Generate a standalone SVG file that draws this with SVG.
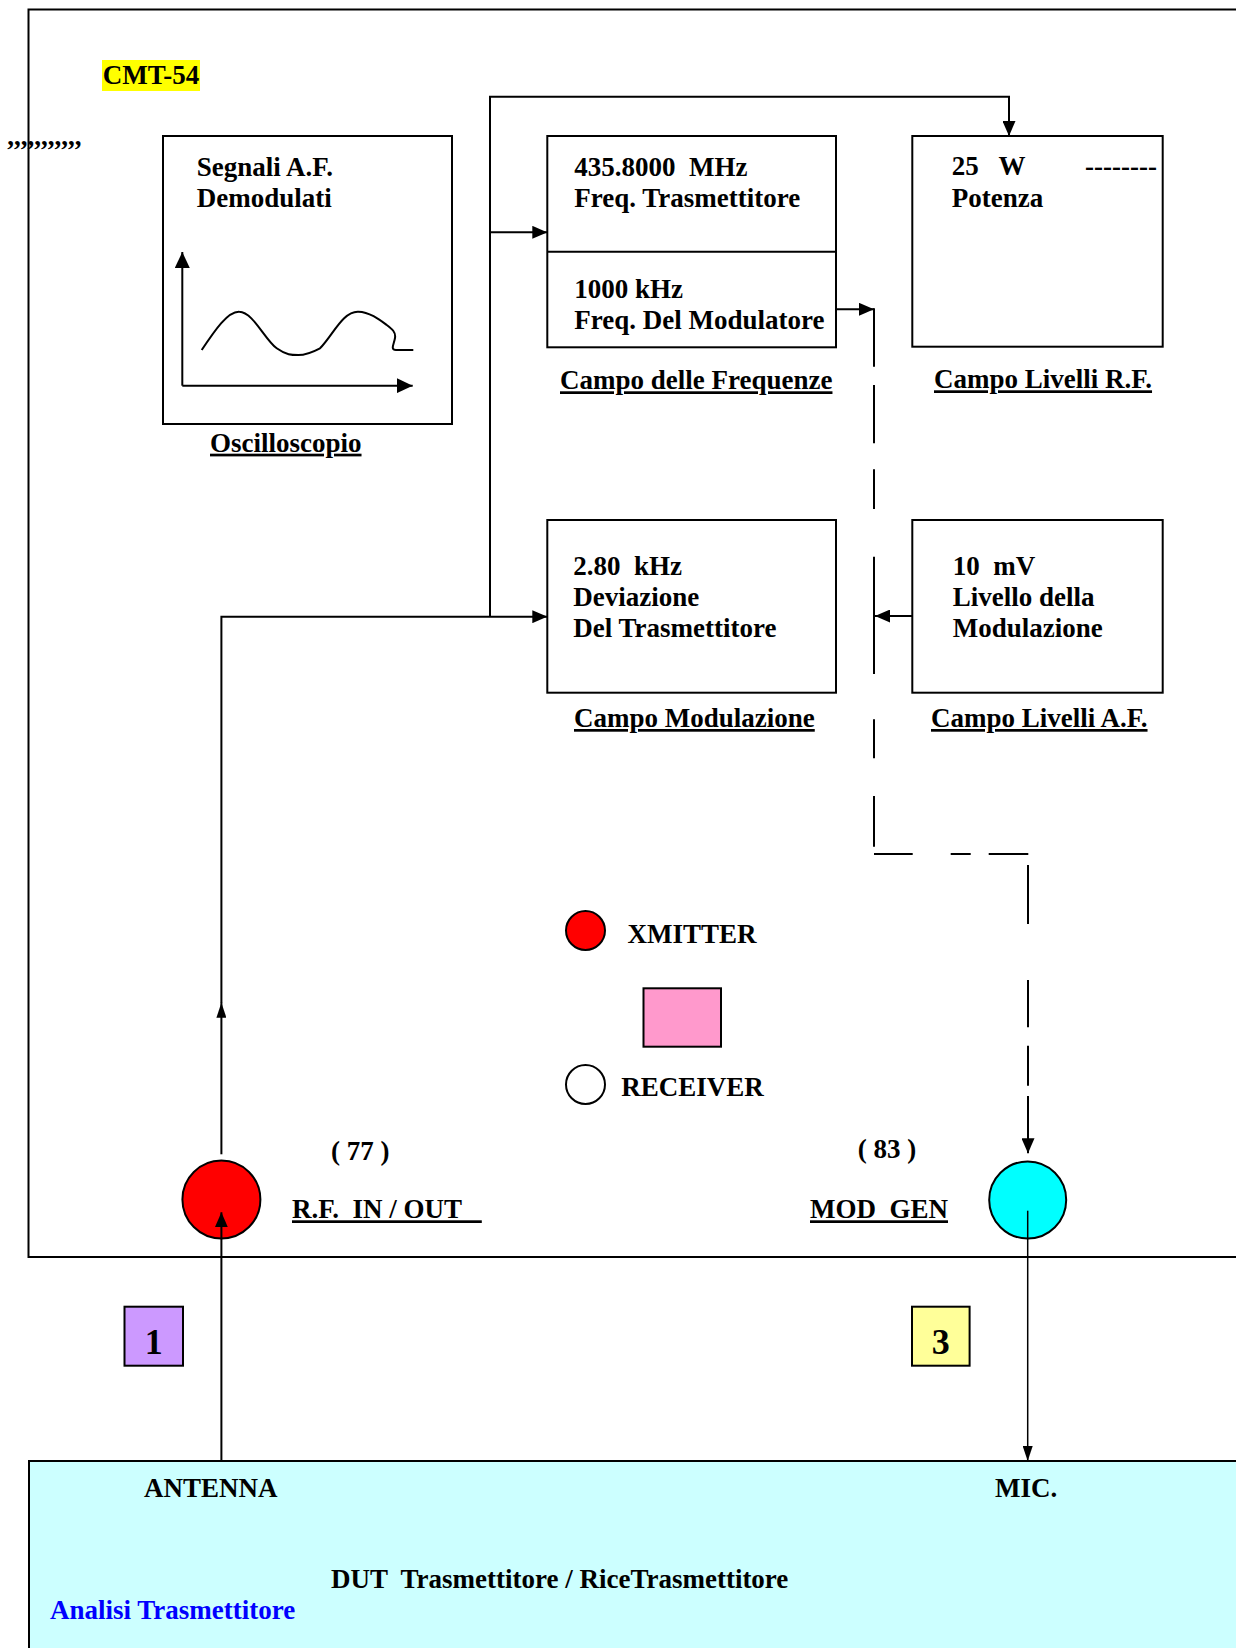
<svg xmlns="http://www.w3.org/2000/svg" width="1236" height="1648" viewBox="0 0 1236 1648">
<defs>
<style>
text{font-family:"Liberation Serif","Times New Roman",serif;font-weight:bold;font-size:27px;fill:#000;white-space:pre}
.u{text-decoration:underline}
.box{fill:#fff;stroke:#000;stroke-width:2}
.ln{fill:none;stroke:#000;stroke-width:2}
.thin{fill:none;stroke:#000;stroke-width:1.5}
</style>
<marker id="ah" viewBox="0 0 15 13" markerWidth="15" markerHeight="13" refX="15" refY="6.5" orient="auto" markerUnits="userSpaceOnUse"><path d="M0,0 L15,6.5 L0,13 z" fill="#000"/></marker>
<marker id="ahs" viewBox="0 0 15 10" markerWidth="15" markerHeight="10" refX="15" refY="5" orient="auto" markerUnits="userSpaceOnUse"><path d="M0,0 L15,5 L0,10 z" fill="#000"/></marker>
<marker id="ahb" viewBox="0 0 16 15" markerWidth="16" markerHeight="15" refX="16" refY="7.5" orient="auto" markerUnits="userSpaceOnUse"><path d="M0,0 L16,7.5 L0,15 z" fill="#000"/></marker>
</defs>
<rect width="1236" height="1648" fill="#fff"/>

<g id="frame">
<rect x="28.5" y="9.5" width="1230" height="1247.5" fill="none" stroke="#000" stroke-width="2"/>
</g>

<g id="dut">
<rect x="29" y="1461" width="1230" height="200" fill="#CCFFFF" stroke="#000" stroke-width="2"/>
<text x="144" y="1497">ANTENNA</text>
<text x="995" y="1497">MIC.</text>
<text x="331" y="1588">DUT  Trasmettitore / RiceTrasmettitore</text>
<text x="50" y="1619" style="fill:#0000FF">Analisi Trasmettitore</text>
</g>

<g id="title">
<rect x="102" y="60" width="98" height="31" fill="#FFFF00"/>
<text x="102.7" y="84.3">CMT-54</text>
<text x="7.3" y="145">,,,,,,,,,,,</text>
</g>

<g id="oscilloscopio">
<rect class="box" x="163" y="136" width="289" height="288"/>
<text x="196.7" y="175.7">Segnali A.F.</text>
<text x="196.7" y="207.3">Demodulati</text>
<path class="ln" d="M182.3,385.7 V252" marker-end="url(#ahb)"/>
<path class="ln" d="M182.3,385.7 H412.7" marker-end="url(#ahb)"/>
<path class="ln" d="M201.7,350 C215,330 228,311 239.3,311.7 C253,312 265,340 276.7,348.3 C286,355 292,355 298.3,355 C306,355 313,352 320,348.3 C333,335 343,311 358.3,311.7 C370,312 380,320 386.7,325 C392,329 396,332 395,338 C394,344 390,350 396,350 L413.3,350"/>
<text class="u" x="210" y="451.7">Oscilloscopio</text>
</g>

<g id="frequenze">
<rect class="box" x="547.3" y="136" width="288.7" height="211.3"/>
<line class="ln" x1="547.3" y1="251.7" x2="836" y2="251.7"/>
<text x="574.3" y="176">435.8000  MHz</text>
<text x="574.3" y="206.7">Freq. Trasmettitore</text>
<text x="574.3" y="298.3">1000 kHz</text>
<text x="574.3" y="329.3">Freq. Del Modulatore</text>
<text class="u" x="560" y="389.3">Campo delle Frequenze</text>
</g>

<g id="livelli-rf">
<rect class="box" x="912.3" y="136" width="250.4" height="210.7"/>
<text x="951.7" y="175">25   W</text>
<text x="1085" y="175">--------</text>
<text x="951.7" y="206.7">Potenza</text>
<text class="u" x="934" y="388.3">Campo Livelli R.F.</text>
</g>

<g id="modulazione">
<rect class="box" x="547.3" y="520" width="288.7" height="172.7"/>
<text x="573.2" y="575">2.80  kHz</text>
<text x="573.2" y="606">Deviazione</text>
<text x="573.2" y="636.7">Del Trasmettitore</text>
<text class="u" x="574" y="727">Campo Modulazione</text>
</g>

<g id="livelli-af">
<rect class="box" x="912.3" y="520" width="250.4" height="172.7"/>
<text x="952.7" y="575">10  mV</text>
<text x="952.7" y="606">Livello della</text>
<text x="952.7" y="636.7">Modulazione</text>
<text class="u" x="931" y="727">Campo Livelli A.F.</text>
</g>

<g id="legend">
<circle cx="585.5" cy="930.5" r="19.5" fill="#FF0000" stroke="#000" stroke-width="2"/>
<text x="627.5" y="942.7">XMITTER</text>
<rect x="643.5" y="988.3" width="77.5" height="58.4" fill="#FF99CC" stroke="#000" stroke-width="2"/>
<circle cx="585.5" cy="1084.5" r="19.5" fill="#fff" stroke="#000" stroke-width="2"/>
<text x="621.3" y="1096">RECEIVER</text>
</g>

<g id="rf-inout">
<circle cx="221.4" cy="1199.5" r="39" fill="#FF0000" stroke="#000" stroke-width="2"/>
<text x="331" y="1160">( 77 )</text>
<text class="u" x="292" y="1218.3">R.F.  IN / OUT   </text>
</g>

<g id="mod-gen">
<circle cx="1027.7" cy="1200" r="38.5" fill="#00FFFF" stroke="#000" stroke-width="2"/>
<text x="857.7" y="1158.3">( 83 )</text>
<text class="u" x="810" y="1218.3">MOD  GEN</text>
</g>

<g id="tag1">
<rect x="124.5" y="1306.7" width="58.5" height="59" fill="#CC99FF" stroke="#000" stroke-width="2"/>
<text x="153.7" y="1354" text-anchor="middle" style="font-size:36px">1</text>
</g>
<g id="tag3">
<rect x="912" y="1306.7" width="57.6" height="59" fill="#FFFF99" stroke="#000" stroke-width="2"/>
<text x="940.8" y="1354" text-anchor="middle" style="font-size:36px">3</text>
</g>

<g id="connectors">
<path class="ln" d="M221.4,1461 V1212.3" marker-end="url(#ah)"/>
<path class="ln" d="M221.4,1154.3 V1002.7" marker-end="url(#ahs)"/>
<path class="ln" d="M221.4,1003 V616.7 H547.3" marker-end="url(#ah)"/>
<path class="ln" d="M490,616.7 V96.7 H1009 V136" marker-end="url(#ah)"/>
<path class="ln" d="M490,232.3 H547.3" marker-end="url(#ah)"/>
<path class="ln" d="M836,309.3 H874" marker-end="url(#ah)"/>
<path class="ln" d="M912.3,616 H875" marker-end="url(#ah)"/>
<path class="ln" d="M874,308.3 V366.7 M874,385 V443.3 M874,469.3 V509 M874,556.7 V674 M874,719.3 V758.3 M874,796 V846.7 M874,854 H912.7 M950.7,854 H970.7 M988.7,854 H1028.3 M1028,865 V924 M1028,980 V1027.3 M1028,1045.7 V1085.7"/>
<path class="ln" d="M1028,1096 V1153.3" marker-end="url(#ah)"/>
<path class="thin" d="M1027.7,1210.7 V1461" marker-end="url(#ahs)"/>
</g>
</svg>
